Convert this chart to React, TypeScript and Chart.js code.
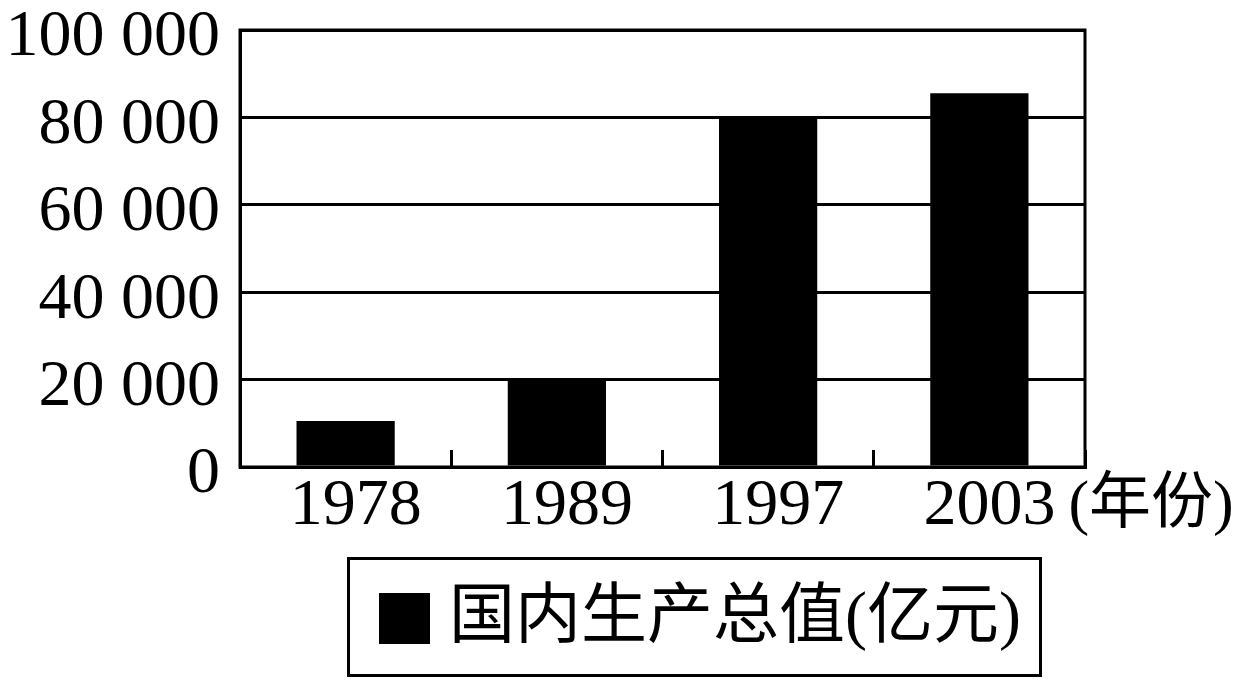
import React, { useEffect, useRef } from "react";
import { Chart, registerables } from "chart.js";

Chart.register(...registerables);

const years: string[] = ["1978", "1989", "1997", "2003"];
const gdpValues: number[] = [10500, 20000, 80000, 85500];
const seriesLabel = "国内生产总值(亿元)";
const xUnitLabel = "(年份)";
const yMin = 0;
const yMax = 100000;
const yStep = 20000;

const formatThousands = (v: number): string =>
  String(v).replace(/\B(?=(\d{3})+(?!\d))/g, " ");

const X_LABEL_OFFSET = 10;
const TICK_FONT = { family: '"Liberation Serif", "DejaVu Serif", serif', size: 66, lineHeight: 1 };

const decorPlugin = {
  id: "decor",
  afterDraw(chart: any) {
    const ctx = chart.ctx as CanvasRenderingContext2D;
    const area = chart.chartArea;
    ctx.save();
    // plot frame
    ctx.strokeStyle = "#000";
    ctx.lineWidth = 3;
    ctx.strokeRect(area.left, area.top, area.right - area.left, area.bottom - area.top);

    // unit label after the last category label
    const xs = chart.scales.x;
    const labels = chart.data.labels as string[];
    const last = labels.length - 1;
    ctx.font = `${TICK_FONT.size}px ${TICK_FONT.family}`;
    const w = ctx.measureText(labels[last]).width;
    const px = xs.getPixelForTick(last) + X_LABEL_OFFSET + w / 2 + 13;
    ctx.font = '62px "Liberation Serif", "Noto Sans CJK SC", serif';
    ctx.fillStyle = "#000";
    ctx.textAlign = "left";
    ctx.textBaseline = "middle";
    ctx.fillText(xUnitLabel, px, 507);

    // legend box
    const ds = chart.data.datasets[0];
    ctx.lineWidth = 3;
    ctx.strokeRect(348.5, 558.5, 692, 117);
    ctx.fillStyle = ds.backgroundColor;
    ctx.fillRect(379, 593, 51, 51);
    ctx.fillStyle = "#000";
    ctx.font = '66px "Liberation Serif", "Noto Sans CJK SC", serif';
    ctx.textAlign = "left";
    ctx.textBaseline = "middle";
    ctx.fillText(ds.label, 449, 620);
    ctx.restore();
  },
};

export default function App() {
  const canvasRef = useRef<HTMLCanvasElement | null>(null);

  useEffect(() => {
    if (!canvasRef.current) return;
    const chart = new Chart(canvasRef.current, {
      type: "bar",
      data: {
        labels: years,
        datasets: [
          {
            label: seriesLabel,
            data: gdpValues,
            backgroundColor: "#000000",
            borderWidth: 0,
            categoryPercentage: 1,
            barPercentage: 0.465,
          },
        ],
      },
      options: {
        responsive: false,
        animation: false,
        layout: { padding: { top: 30, right: 160, bottom: 151, left: 0 } },
        plugins: {
          legend: { display: false },
          tooltip: { enabled: false },
        },
        scales: {
          x: {
            offset: true,
            grid: {
              offset: true,
              drawOnChartArea: false,
              drawTicks: true,
              tickLength: -17,
              tickColor: "#000",
              tickWidth: 3,
            },
            border: { display: true, color: "#000", width: 3 },
            ticks: {
              color: "#000",
              font: TICK_FONT,
              padding: 24,
              labelOffset: X_LABEL_OFFSET,
              maxRotation: 0,
              autoSkip: false,
            },
            afterFit: (scale: any) => {
              scale.height = 80;
              scale.paddingLeft = 0;
              scale.paddingRight = 0;
            },
          },
          y: {
            min: yMin,
            max: yMax,
            grid: {
              color: "#000",
              lineWidth: 3,
              drawTicks: false,
            },
            border: { display: true, color: "#000", width: 3 },
            ticks: {
              stepSize: yStep,
              color: "#000",
              font: { ...TICK_FONT, lineHeight: 0.9 },
              padding: 20,
              labelOffset: 8,
              callback: (v: any) => formatThousands(Number(v)),
            },
            afterFit: (scale: any) => {
              scale.width = 240;
              scale.paddingTop = 0;
              scale.paddingBottom = 0;
            },
          },
        },
      },
      plugins: [decorPlugin],
    });
    return () => chart.destroy();
  }, []);

  return (
    <div style={{ position: "fixed", left: 0, top: 0, width: 1245, height: 698, background: "#fff" }}>
      <canvas ref={canvasRef} width={1245} height={698} style={{ display: "block" }} />
    </div>
  );
}
